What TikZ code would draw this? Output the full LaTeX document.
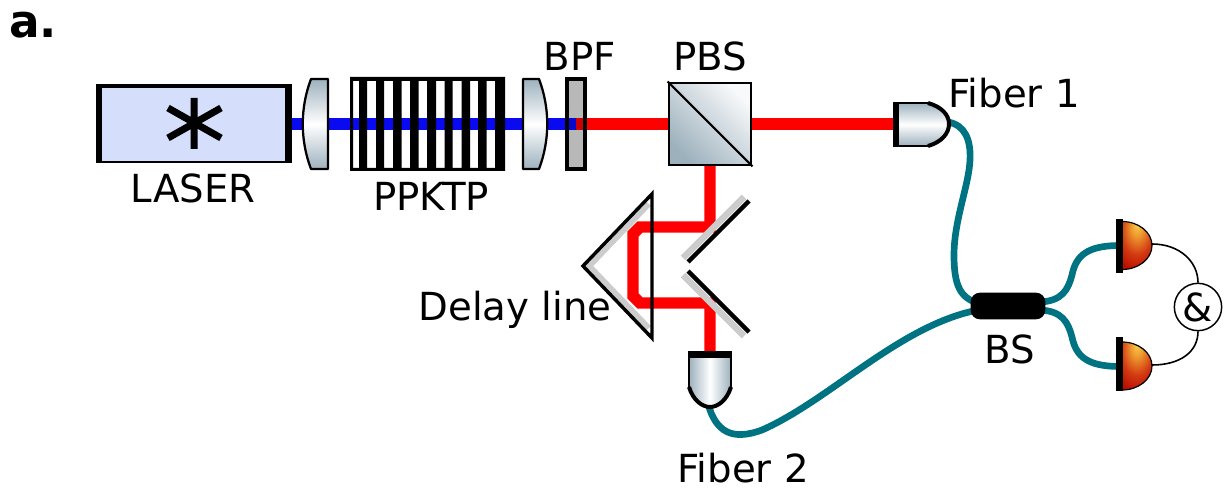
\documentclass[tikz,border=0pt]{standalone}
\usepackage{fontspec}
\setmainfont{DejaVu Sans}
\definecolor{beamblue}{HTML}{0A0AF0}
\definecolor{beamred}{HTML}{FF0000}
\definecolor{teal2}{HTML}{007382}
\definecolor{steel}{HTML}{9DB1BD}
\definecolor{lasfill}{HTML}{D5DFFB}
\definecolor{dta}{HTML}{F7CE4E}
\definecolor{dtb}{HTML}{EE9A2E}
\definecolor{dtc}{HTML}{D23A12}
\definecolor{dtd}{HTML}{BA0F00}
\pgfdeclareradialshading{detshade}{\pgfpoint{0bp}{22bp}}{color(0bp)=(dta);color(10bp)=(dtb);color(26bp)=(dtc);color(40bp)=(dtd);color(100bp)=(dtd)}
\tikzset{
 lbl/.style={font=\fontsize{29pt}{32pt}\selectfont,text=black,inner sep=0pt},
 beam/.style={line width=8.6pt,line join=miter},
 fiber/.style={draw=teal2,line width=5pt,line cap=round},
 wire/.style={draw=black,line width=1.2pt},
 optic/.style={draw=black,line width=1.7pt,line join=round},
 steelv/.style={top color=steel,bottom color=steel,middle color=white},
 steelh/.style={left color=steel,right color=steel,middle color=white},
}
\begin{document}
\begin{tikzpicture}[x=0.75pt,y=-0.75pt]
\useasboundingbox (0,0) rectangle (1225,491);
% anchor points
\coordinate (laserout) at (290,124);
\coordinate (split) at (576,124);
\coordinate (pbsc) at (710,124);
\coordinate (f1in) at (895,124);
\coordinate (f1out) at (948,122);
\coordinate (m1) at (710,227);
\coordinate (m2) at (710,303);
\coordinate (f2in) at (710,354);
\coordinate (f2out) at (708,404);
\coordinate (bsa) at (978,303);
\coordinate (bsb) at (978,310);
\coordinate (bsc) at (1040,302);
\coordinate (bsd) at (1040,310);
\coordinate (d1) at (1118,245.5);
\coordinate (d2) at (1118,366.5);
\coordinate (d1o) at (1152,244);
\coordinate (d2o) at (1152,365);
% PPKTP back
\fill[white] (350,77) rectangle (505,171);
% beams
\draw[beam,draw=beamblue] (laserout) -- (split);
\draw[beam,draw=beamred] (split) -- (pbsc) -- (f1in);
% PPKTP stripes
\fill[black,even odd rule] (350,77) rectangle (505,171)
 (353,81) rectangle (359,168) (367,81) rectangle (376,168) (384,81) rectangle (393,168)
 (401.5,81) rectangle (410,168) (418.5,81) rectangle (427,168) (436,81) rectangle (444.5,168)
 (452.5,81) rectangle (461.5,168) (470,81) rectangle (478,168) (486.5,81) rectangle (495,168);
\node[lbl] (ppktplbl) at (431,196) {PPKTP};
% Laser
\node[fill=black,minimum width=147pt,minimum height=59.25pt,inner sep=0pt] (laser) at (193.5,123.5) {};
\node[fill=lasfill,minimum width=137.25pt,minimum height=54.75pt,inner sep=0pt] (laserin) at (193.5,124.5) {};
\draw[line width=5.25pt,black] (194,98) -- (194,149) (168,108) -- (221,138) (168,138) -- (221,108);
\node[lbl] (laserlbl) at (193,188) {LASER};
% Lenses
\path[optic,steelv] (311,79) -- (328,79) -- (328,169) -- (311,169) .. controls (300,140) and (300,108) .. (311,79) -- cycle;
\path[optic,steelv] (523,79) -- (539,79) .. controls (550,108) and (550,140) .. (539,169) -- (523,169) -- cycle;
% BPF
\fill[black!28] (567,79) rectangle (585,169);
\draw[line width=8.6pt,draw=beamblue!85!black] (567,124) -- (split);
\draw[line width=8.6pt,draw=beamred!80!black] (split) -- (585,124);
\draw[black,line width=2.4pt] (567,79) rectangle (585,169);
\node[lbl] (bpflbl) at (580,56) {BPF};
% Delay line: prism
\coordinate (pa) at (583,266);
\coordinate (pb) at (652,194);
\coordinate (pc) at (652,338);
\draw[black!20,line width=4pt] (649,204) -- (589.5,266) -- (649,328);
\draw[beam,draw=beamred] (pbsc) -- (m1) -- (640,227) -- (633,234) -- (633,296) -- (640,303) -- (m2) -- (f2in);
\draw[black,line width=2.6pt,line join=miter] (pc) -- (pa) -- (pb) -- cycle;
% Mirrors
\draw[black!20,line width=5pt] (683,258) -- (744,197);
\draw[black!20,line width=5pt] (683,275) -- (744,336);
\draw[black,line width=3.4pt] (688,262) -- (749,201);
\draw[black,line width=3.4pt] (688,271) -- (749,332);
\node[lbl] (dellbl) at (515,310) {Delay line};
% PBS
\node[draw=black,line width=1.6pt,minimum width=62pt,minimum height=62pt,inner sep=0pt,left color=steel,right color=steel!8,shading angle=135] (pbs) at (710,124) {};
\draw[black,line width=1.6pt] (pbs.north west) -- (pbs.south east);
\node[lbl] (pbslbl) at (710,56) {PBS};
% Fibers
\draw[fiber] (f1out) .. controls (965,125) and (971,140) .. (970,160) .. controls (969,185) and (954,220) .. (954,255) .. controls (954,285) and (960,298) .. (bsa);
\draw[fiber] (f2out) .. controls (716,432) and (732,441) .. (762,430) .. controls (830,400) and (900,325) .. (bsb);
\draw[fiber] (bsc) .. controls (1062,301) and (1068,290) .. (1072,275) .. controls (1076,255) and (1088,246) .. (d1);
\draw[fiber] (bsd) .. controls (1062,311) and (1068,322) .. (1072,337) .. controls (1076,357) and (1088,366) .. (d2);
% Couplers
\path[steelv] (895,103) -- (930,103) .. controls (942,103) and (949,115) .. (949,124) .. controls (949,133) and (942,146) .. (930,146) -- (895,146) -- cycle;
\draw[black,line width=1pt] (895,103) -- (930,103) (895,146) -- (930,146);
\draw[black,line width=3pt] (928,103) .. controls (942,107) and (949,115) .. (949,124) .. controls (949,133) and (942,142) .. (928,146);
\fill[black] (893,102) rectangle (899,147);
\path[steelh] (689,354) -- (731,354) -- (731,388) .. controls (727,400) and (718,407) .. (710,407) .. controls (702,407) and (693,400) .. (689,388) -- cycle;
\draw[black,line width=1pt] (689,354) -- (689,388) (731,354) -- (731,388);
\draw[black,line width=3pt] (689,387) .. controls (693,400) and (702,407) .. (710,407) .. controls (718,407) and (727,400) .. (731,387);
\fill[black] (688,351) rectangle (732,358);
\node[lbl] (f1lbl) at (1014,93) {Fiber 1};
\node[lbl] (f2lbl) at (743,468) {Fiber 2};
% BS
\node[fill=black,rounded corners=7pt,minimum width=56pt,minimum height=20pt,inner sep=0pt] (bs) at (1008,306) {};
\node[lbl] (bslbl) at (1010,349) {BS};
% Detectors
\foreach \yy in {245.5,366}{
 \path[shading=detshade,draw=black,line width=.9pt] (1122,\yy-24) arc[start angle=-90,end angle=90,x radius=30,y radius=24] -- cycle;
}
\fill[black] (1116,219) rectangle (1122.5,273);
\fill[black] (1116,337) rectangle (1122.5,391);
% AND
\node[circle,draw=black,fill=white,line width=1.1pt,minimum size=35.5pt,inner sep=0pt,font=\fontsize{29pt}{32pt}\selectfont] (and) at (1198,307) {\&};
\draw[wire] (d1o) .. controls (1180,244) and (1198,262) .. (and.north);
\draw[wire] (d2o) .. controls (1180,365) and (1198,352) .. (and.south);
\node[inner sep=0pt,font=\bfseries\fontsize{34pt}{36pt}\selectfont,anchor=base west] (alabel) at (9,38) {a.};
\end{tikzpicture}
\end{document}
